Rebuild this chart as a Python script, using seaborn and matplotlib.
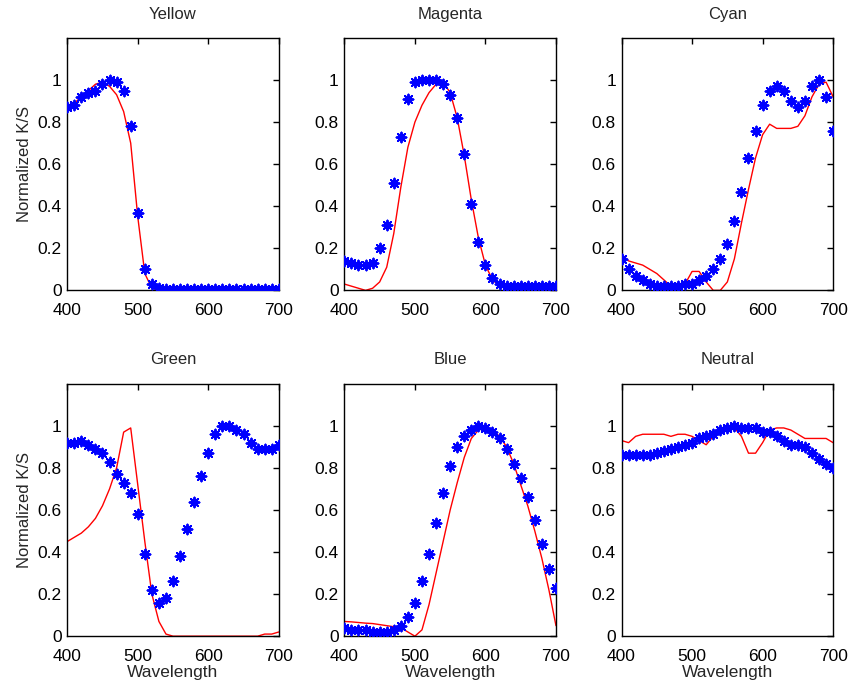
import numpy as np
import pandas as pd
import matplotlib
matplotlib.use("Agg")
import matplotlib.pyplot as plt
import seaborn as sns

# Wavelength grid (nm), 10 nm steps
wavelength = [400, 410, 420, 430, 440, 450, 460, 470, 480, 490, 500,
              510, 520, 530, 540, 550, 560, 570, 580, 590, 600,
              610, 620, 630, 640, 650, 660, 670, 680, 690, 700]

panels = ['Yellow', 'Magenta', 'Cyan', 'Green', 'Blue', 'Neutral']

# measured (blue stars)
yellow_meas = [0.87, 0.88, 0.92, 0.94, 0.95, 0.98, 1.00, 0.99, 0.95, 0.78, 0.37,
               0.10, 0.03, 0.01, 0.005, 0.005, 0.005, 0.005, 0.005, 0.005, 0.005,
               0.005, 0.005, 0.005, 0.005, 0.005, 0.005, 0.005, 0.005, 0.005, 0.005]
magenta_meas = [0.14, 0.13, 0.12, 0.12, 0.13, 0.20, 0.31, 0.51, 0.73, 0.91, 0.99,
                1.00, 1.00, 1.00, 0.98, 0.93, 0.82, 0.65, 0.41, 0.23, 0.12,
                0.06, 0.03, 0.02, 0.02, 0.02, 0.02, 0.02, 0.02, 0.02, 0.02]
cyan_meas = [0.15, 0.10, 0.07, 0.05, 0.03, 0.02, 0.02, 0.02, 0.02, 0.03, 0.03,
             0.05, 0.07, 0.10, 0.15, 0.22, 0.33, 0.47, 0.63, 0.76, 0.88,
             0.95, 0.97, 0.95, 0.90, 0.87, 0.90, 0.97, 1.00, 0.92, 0.76]
green_meas = [0.92, 0.92, 0.93, 0.91, 0.89, 0.87, 0.83, 0.77, 0.73, 0.68, 0.58,
              0.39, 0.22, 0.16, 0.18, 0.26, 0.38, 0.51, 0.64, 0.76, 0.87,
              0.96, 1.00, 1.00, 0.98, 0.96, 0.92, 0.89, 0.89, 0.89, 0.91]
blue_meas = [0.04, 0.03, 0.03, 0.03, 0.02, 0.02, 0.02, 0.03, 0.05, 0.09, 0.16,
             0.26, 0.39, 0.54, 0.68, 0.81, 0.90, 0.95, 0.98, 1.00, 0.99,
             0.97, 0.94, 0.89, 0.82, 0.75, 0.66, 0.55, 0.44, 0.32, 0.23]
neutral_meas = [0.86, 0.86, 0.86, 0.86, 0.86, 0.87, 0.88, 0.89, 0.90, 0.91, 0.92,
                0.94, 0.95, 0.96, 0.98, 0.99, 1.00, 0.99, 0.99, 0.99, 0.97,
                0.97, 0.95, 0.93, 0.91, 0.91, 0.90, 0.87, 0.84, 0.82, 0.80]

# model (red lines)
yellow_model = [0.87, 0.89, 0.92, 0.95, 0.98, 0.99, 0.97, 0.93, 0.85, 0.70, 0.35,
                0.08, 0.01, 0.0, 0.0, 0.0, 0.0, 0.0, 0.0, 0.0, 0.0,
                0.0, 0.0, 0.0, 0.0, 0.0, 0.0, 0.0, 0.0, 0.0, 0.0]
magenta_model = [0.03, 0.02, 0.01, 0.0, 0.01, 0.04, 0.11, 0.27, 0.49, 0.68, 0.80,
                 0.88, 0.94, 0.98, 0.99, 0.94, 0.82, 0.64, 0.43, 0.25, 0.12,
                 0.05, 0.02, 0.01, 0.0, 0.0, 0.0, 0.0, 0.0, 0.0, 0.0]
cyan_model = [0.17, 0.14, 0.13, 0.12, 0.10, 0.08, 0.05, 0.02, 0.01, 0.03, 0.09,
              0.09, 0.04, 0.0, 0.0, 0.04, 0.15, 0.32, 0.48, 0.63, 0.74,
              0.79, 0.77, 0.77, 0.77, 0.78, 0.83, 0.92, 0.98, 0.99, 0.92]
green_model = [0.45, 0.47, 0.49, 0.52, 0.56, 0.62, 0.70, 0.80, 0.97, 0.99, 0.72,
               0.45, 0.20, 0.07, 0.01, 0.0, 0.0, 0.0, 0.0, 0.0, 0.0,
               0.0, 0.0, 0.0, 0.0, 0.0, 0.0, 0.0, 0.01, 0.01, 0.02]
blue_model = [0.07, 0.068, 0.065, 0.062, 0.06, 0.055, 0.05, 0.045, 0.04, 0.02, 0.0,
              0.03, 0.15, 0.30, 0.45, 0.60, 0.73, 0.85, 0.94, 0.98, 0.99,
              0.98, 0.95, 0.90, 0.82, 0.72, 0.62, 0.50, 0.37, 0.22, 0.05]
neutral_model = [0.93, 0.92, 0.95, 0.96, 0.96, 0.96, 0.96, 0.95, 0.96, 0.96, 0.95,
                 0.93, 0.91, 0.95, 0.97, 0.99, 0.99, 0.95, 0.87, 0.87, 0.92,
                 0.98, 0.99, 0.99, 0.98, 0.96, 0.94, 0.94, 0.94, 0.94, 0.92]

measured = [yellow_meas, magenta_meas, cyan_meas, green_meas, blue_meas, neutral_meas]
model = [yellow_model, magenta_model, cyan_model, green_model, blue_model, neutral_model]

sns.set_theme(style="white")
plt.rcParams['font.family'] = ['Liberation Sans', 'DejaVu Sans']

fig, axes = plt.subplots(2, 3, figsize=(8.51, 6.9), dpi=100)
fig.subplots_adjust(left=0.079, right=0.979, top=0.945, bottom=0.078,
                    wspace=0.31, hspace=0.37)

for i, ax in enumerate(axes.flat):
    df = pd.DataFrame({'wl': wavelength, 'meas': measured[i], 'model': model[i]})
    sns.lineplot(data=df, x='wl', y='model', ax=ax, color='red', linewidth=1.0)
    sns.scatterplot(data=df, x='wl', y='meas', ax=ax, marker=(8, 2, 0), s=50,
                    color='blue', edgecolor='blue', linewidth=1.4, zorder=3)
    ax.set_xlim(400, 700)
    ax.set_ylim(0, 1.2)
    ax.set_xticks([400, 500, 600, 700])
    ax.set_yticks([0, 0.2, 0.4, 0.6, 0.8, 1])
    ax.set_yticklabels(['0', '0.2', '0.4', '0.6', '0.8', '1'])
    ax.tick_params(direction='in', top=True, right=True, length=4, width=1,
                   labelsize=12.5, colors='black')
    ax.tick_params(axis='x', pad=9)
    ax.tick_params(axis='y', pad=4)
    for sp in ax.spines.values():
        sp.set_color('black')
        sp.set_linewidth(1.0)
    ax.set_title(panels[i], fontsize=12, pad=14)
    ax.set_xlabel('Wavelength' if i >= 3 else '', fontsize=12.5, labelpad=1)
    ax.set_ylabel('Normalized K/S' if i % 3 == 0 else '', fontsize=12)

plt.savefig('out.png', dpi=100)
